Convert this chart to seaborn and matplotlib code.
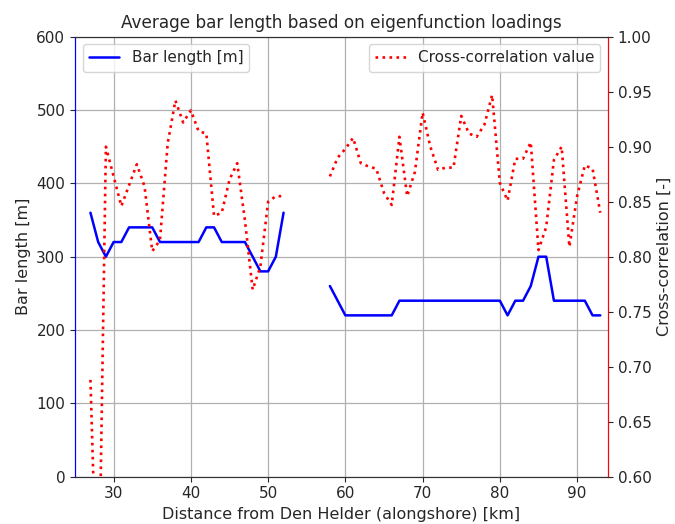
import numpy as np
import pandas as pd
import matplotlib
matplotlib.use("Agg")
import matplotlib.pyplot as plt
import seaborn as sns

# Data
km_seg1 = list(range(27, 53))
km_seg2 = list(range(58, 94))

bar_seg1 = [360, 320, 300, 320, 320, 340, 340, 340, 340, 320, 320, 320, 320,
            320, 320, 340, 340, 320, 320, 320, 320, 300, 280, 280, 300, 360]
bar_seg2 = [260, 240, 220, 220, 220, 220, 220, 220, 220, 240, 240, 240, 240,
            240, 240, 240, 240, 240, 240, 240, 240, 240, 240, 220, 240, 240,
            260, 300, 300, 240, 240, 240, 240, 240, 220, 220]

cc_seg1 = [0.688, 0.45, 0.900, 0.873, 0.846, 0.865, 0.884, 0.864, 0.805, 0.815,
           0.903, 0.942, 0.922, 0.933, 0.914, 0.912, 0.837, 0.840, 0.870, 0.885,
           0.833, 0.770, 0.791, 0.850, 0.855, 0.855]
cc_seg2 = [0.873, 0.890, 0.898, 0.908, 0.885, 0.882, 0.880, 0.858, 0.847, 0.909,
           0.855, 0.877, 0.931, 0.900, 0.879, 0.881, 0.881, 0.928, 0.912, 0.909,
           0.920, 0.947, 0.867, 0.851, 0.889, 0.889, 0.904, 0.806, 0.827, 0.888,
           0.900, 0.809, 0.855, 0.883, 0.880, 0.840]

df = pd.DataFrame({
    "km": km_seg1 + km_seg2,
    "bar": bar_seg1 + bar_seg2,
    "cc": cc_seg1 + cc_seg2,
    "seg": [1] * len(km_seg1) + [2] * len(km_seg2),
})

sns.set_style("ticks")
plt.rcParams["font.family"] = ["DejaVu Sans"]

fig = plt.figure(figsize=(6.75, 5.24), dpi=100)
ax1 = fig.add_axes([75 / 675, 1 - 476.7 / 524, (608 - 75) / 675, (476.7 - 36.7) / 524])
ax2 = ax1.twinx()

sns.lineplot(data=df, x="km", y="bar", units="seg", estimator=None,
             color="blue", linewidth=1.8, ax=ax1)
sns.lineplot(data=df, x="km", y="cc", units="seg", estimator=None,
             color="red", linewidth=1.9, linestyle=":", ax=ax2)

ax1.set_xlim(25, 94)
ax1.set_ylim(0, 600)
ax2.set_ylim(0.60, 1.00)
ax1.set_xticks(range(30, 100, 10))
ax1.set_yticks(range(0, 700, 100))
ax2.set_yticks(np.arange(0.60, 1.001, 0.05))
ax2.set_yticklabels([f"{v:.2f}" for v in np.arange(0.60, 1.001, 0.05)])

ax1.grid(True, color="#b0b0b0", linewidth=0.9)
ax1.set_axisbelow(True)

fs = 11.5
ax1.set_xlabel("Distance from Den Helder (alongshore) [km]", fontsize=fs)
ax1.set_ylabel("Bar length [m]", fontsize=fs)
ax2.set_ylabel("Cross-correlation [-]", fontsize=fs)
ax1.set_title("Average bar length based on eigenfunction loadings", fontsize=12.2)
ax1.tick_params(labelsize=11)
ax2.tick_params(labelsize=11)

for ax in (ax1, ax2):
    for s in ax.spines.values():
        s.set_visible(True)
        s.set_color("#333333")
ax2.spines["left"].set_color("blue")
ax2.spines["right"].set_color("red")
ax1.spines["left"].set_color("blue")
ax1.spines["right"].set_color("red")

ax1.legend(handles=[ax1.get_lines()[0]], labels=["Bar length [m]"],
           loc="upper left", fontsize=11)
ax2.legend(handles=[ax2.get_lines()[0]], labels=["Cross-correlation value"],
           loc="upper right", fontsize=11)

fig.savefig("out.png", dpi=100)
